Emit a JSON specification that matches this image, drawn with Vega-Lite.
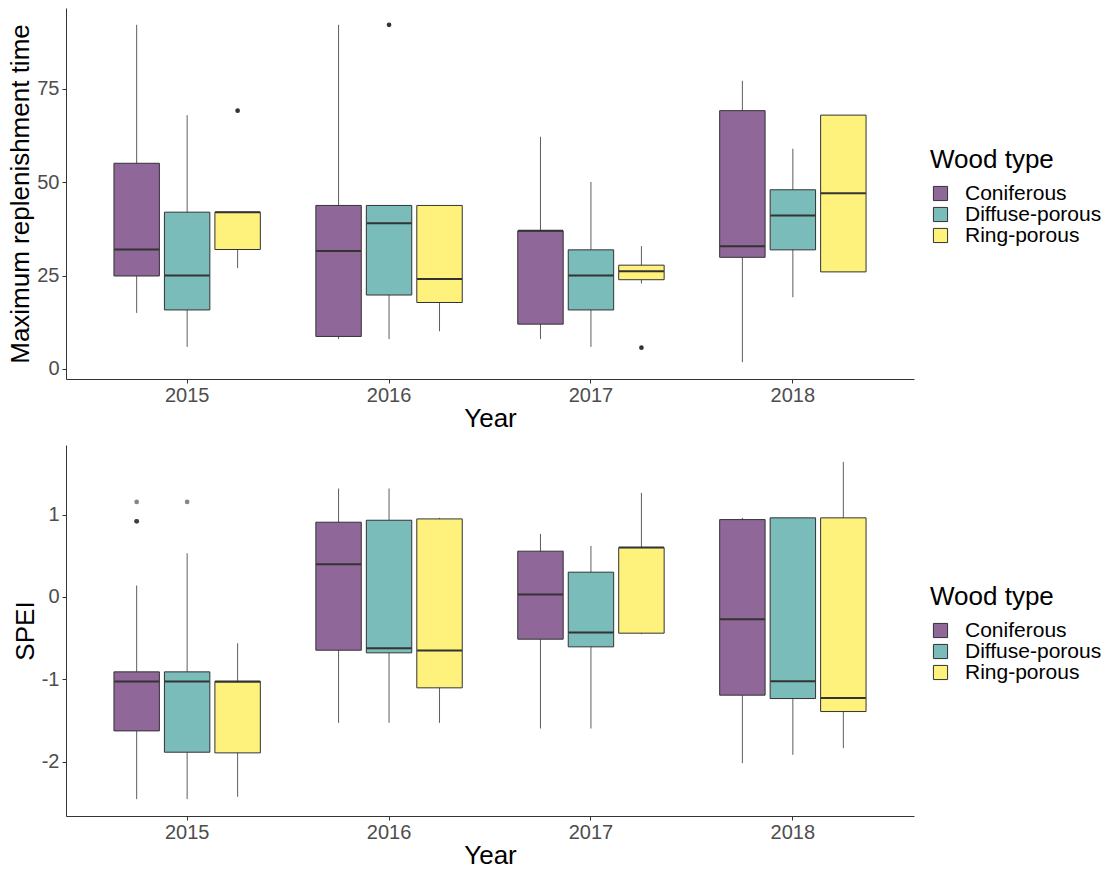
{
  "$schema": "https://vega.github.io/schema/vega-lite/v6.json",
  "background": "white",
  "padding": {"left": 7, "top": 8, "right": 0, "bottom": 0},
  "config": {
    "font": "Liberation Sans",
    "view": {"stroke": null},
    "axis": {
      "grid": false,
      "domainColor": "#333333",
      "domainWidth": 1,
      "tickColor": "#333333",
      "tickSize": 4,
      "labelColor": "#4D4D4D",
      "labelFontSize": 20,
      "labelFont": "Liberation Sans",
      "titleColor": "#000000",
      "titleFontSize": 26,
      "titleFontWeight": "normal",
      "titleFont": "Liberation Sans"
    },
    "legend": {
      "orient": "none",
      "legendX": 864,
      "legendY": 139,
      "titleFontSize": 26,
      "titleFontWeight": "normal",
      "titleColor": "#000000",
      "titleFont": "Liberation Sans",
      "titlePadding": 10,
      "labelFontSize": 21,
      "labelColor": "#000000",
      "labelFont": "Liberation Sans",
      "labelOffset": 14,
      "symbolType": "square",
      "symbolSize": 200,
      "symbolStrokeColor": "#333333",
      "symbolStrokeWidth": 1,
      "rowPadding": -2
    }
  },
  "datasets": {
    "mrt": [
      {"year": "2015", "wood": "Coniferous", "lo": 15.0, "q1": 24.9, "med": 32.0, "q3": 55.1, "hi": 92.2},
      {"year": "2015", "wood": "Diffuse-porous", "lo": 5.9, "q1": 15.8, "med": 25.0, "q3": 42.0, "hi": 68.0},
      {"year": "2015", "wood": "Ring-porous", "lo": 27.0, "q1": 32.0, "med": 42.0, "q3": 42.0, "hi": 42.0},
      {"year": "2016", "wood": "Coniferous", "lo": 8.0, "q1": 8.7, "med": 31.6, "q3": 43.8, "hi": 92.2},
      {"year": "2016", "wood": "Diffuse-porous", "lo": 8.0, "q1": 19.8, "med": 39.0, "q3": 43.8, "hi": 43.8},
      {"year": "2016", "wood": "Ring-porous", "lo": 10.1, "q1": 17.8, "med": 24.1, "q3": 43.8, "hi": 43.8},
      {"year": "2017", "wood": "Coniferous", "lo": 8.0, "q1": 12.0, "med": 37.0, "q3": 37.0, "hi": 62.2},
      {"year": "2017", "wood": "Diffuse-porous", "lo": 5.9, "q1": 15.8, "med": 25.0, "q3": 31.9, "hi": 50.1},
      {"year": "2017", "wood": "Ring-porous", "lo": 22.9, "q1": 23.9, "med": 26.2, "q3": 27.8, "hi": 32.9},
      {"year": "2018", "wood": "Coniferous", "lo": 1.8, "q1": 29.9, "med": 32.9, "q3": 69.2, "hi": 77.2},
      {"year": "2018", "wood": "Diffuse-porous", "lo": 19.2, "q1": 31.9, "med": 41.1, "q3": 48.0, "hi": 59.0},
      {"year": "2018", "wood": "Ring-porous", "lo": 26.0, "q1": 26.0, "med": 47.1, "q3": 68.0, "hi": 68.0}
    ],
    "mrt_out": [
      {"year": "2015", "wood": "Ring-porous", "v": 69.2},
      {"year": "2016", "wood": "Diffuse-porous", "v": 92.2},
      {"year": "2017", "wood": "Ring-porous", "v": 5.7}
    ],
    "spei": [
      {"year": "2015", "wood": "Coniferous", "lo": -2.457, "q1": -1.628, "med": -1.028, "q3": -0.911, "hi": 0.138},
      {"year": "2015", "wood": "Diffuse-porous", "lo": -2.457, "q1": -1.887, "med": -1.028, "q3": -0.911, "hi": 0.530},
      {"year": "2015", "wood": "Ring-porous", "lo": -2.429, "q1": -1.895, "med": -1.030, "q3": -1.024, "hi": -0.563},
      {"year": "2016", "wood": "Coniferous", "lo": -1.530, "q1": -0.648, "med": 0.397, "q3": 0.907, "hi": 1.316},
      {"year": "2016", "wood": "Diffuse-porous", "lo": -1.530, "q1": -0.680, "med": -0.623, "q3": 0.931, "hi": 1.316},
      {"year": "2016", "wood": "Ring-porous", "lo": -1.530, "q1": -1.105, "med": -0.652, "q3": 0.947, "hi": 0.960},
      {"year": "2017", "wood": "Coniferous", "lo": -1.599, "q1": -0.514, "med": 0.028, "q3": 0.555, "hi": 0.765},
      {"year": "2017", "wood": "Diffuse-porous", "lo": -1.599, "q1": -0.607, "med": -0.433, "q3": 0.300, "hi": 0.619},
      {"year": "2017", "wood": "Ring-porous", "lo": -0.453, "q1": -0.441, "med": 0.599, "q3": 0.599, "hi": 1.263},
      {"year": "2018", "wood": "Coniferous", "lo": -2.020, "q1": -1.194, "med": -0.271, "q3": 0.939, "hi": 0.960},
      {"year": "2018", "wood": "Diffuse-porous", "lo": -1.919, "q1": -1.235, "med": -1.024, "q3": 0.960, "hi": 0.960},
      {"year": "2018", "wood": "Ring-porous", "lo": -1.838, "q1": -1.393, "med": -1.227, "q3": 0.960, "hi": 1.640}
    ],
    "spei_out": [
      {"year": "2015", "wood": "Coniferous", "v": 1.154},
      {"year": "2015", "wood": "Coniferous", "v": 0.919},
      {"year": "2015", "wood": "Coniferous", "v": 0.919},
      {"year": "2015", "wood": "Coniferous", "v": 0.919},
      {"year": "2015", "wood": "Diffuse-porous", "v": 1.154}
    ]
  },
  "spacing": 14,
  "resolve": {"legend": {"color": "independent"}},
  "vconcat": [
    {
      "width": 848,
      "height": 371,
      "encoding": {
        "x": {"field": "year", "type": "nominal", "title": "Year",
              "scale": {"paddingInner": 0.25, "paddingOuter": 0.225},
              "axis": {"labelAngle": 0, "labelPadding": 2, "titlePadding": 0}},
        "xOffset": {"field": "wood", "type": "nominal",
                    "scale": {"paddingInner": 0.1, "paddingOuter": 0.05}}
      },
      "layer": [
        {
          "data": {"name": "mrt"},
          "mark": {"type": "rule", "color": "#333333", "strokeWidth": 0.8},
          "encoding": {
            "y": {"field": "lo", "type": "quantitative", "title": "Maximum replenishment time",
                  "scale": {"domain": [-2.7, 96.7], "nice": false, "zero": false},
                  "axis": {"values": [0, 25, 50, 75], "labelPadding": 3, "titlePadding": 3}},
            "y2": {"field": "hi"}
          }
        },
        {
          "data": {"name": "mrt"},
          "mark": {"type": "bar", "stroke": "#333333", "strokeWidth": 1},
          "encoding": {
            "y": {"field": "q1", "type": "quantitative"},
            "y2": {"field": "q3"},
            "color": {"field": "wood", "type": "nominal", "title": "Wood type",
                      "scale": {"domain": ["Coniferous", "Diffuse-porous", "Ring-porous"],
                                "range": ["#8F6798", "#7ABCBA", "#FEF17C"]}}
          }
        },
        {
          "data": {"name": "mrt"},
          "mark": {"type": "tick", "color": "#333333", "thickness": 2, "size": 45, "opacity": 1},
          "encoding": {"y": {"field": "med", "type": "quantitative"}}
        },
        {
          "data": {"name": "mrt_out"},
          "mark": {"type": "circle", "color": "#333333", "opacity": 1, "size": 22},
          "encoding": {"y": {"field": "v", "type": "quantitative"}}
        }
      ]
    },
    {
      "width": 848,
      "height": 371,
      "encoding": {
        "x": {"field": "year", "type": "nominal", "title": "Year",
              "scale": {"paddingInner": 0.25, "paddingOuter": 0.225},
              "axis": {"labelAngle": 0, "labelPadding": 2, "titlePadding": 0}},
        "xOffset": {"field": "wood", "type": "nominal",
                    "scale": {"paddingInner": 0.1, "paddingOuter": 0.05}}
      },
      "layer": [
        {
          "data": {"name": "spei"},
          "mark": {"type": "rule", "color": "#333333", "strokeWidth": 0.8},
          "encoding": {
            "y": {"field": "lo", "type": "quantitative", "title": "SPEI",
                  "scale": {"domain": [-2.662, 1.845], "nice": false, "zero": false},
                  "axis": {"values": [-2, -1, 0, 1], "labelExpr": "'' + datum.value", "labelPadding": 3, "titlePadding": 3}},
            "y2": {"field": "hi"}
          }
        },
        {
          "data": {"name": "spei"},
          "mark": {"type": "bar", "stroke": "#333333", "strokeWidth": 1},
          "encoding": {
            "y": {"field": "q1", "type": "quantitative"},
            "y2": {"field": "q3"},
            "color": {"field": "wood", "type": "nominal", "title": "Wood type",
                      "scale": {"domain": ["Coniferous", "Diffuse-porous", "Ring-porous"],
                                "range": ["#8F6798", "#7ABCBA", "#FEF17C"]}}
          }
        },
        {
          "data": {"name": "spei"},
          "mark": {"type": "tick", "color": "#333333", "thickness": 2, "size": 45, "opacity": 1},
          "encoding": {"y": {"field": "med", "type": "quantitative"}}
        },
        {
          "data": {"name": "spei_out"},
          "mark": {"type": "circle", "color": "#333333", "opacity": 0.6, "size": 22},
          "encoding": {"y": {"field": "v", "type": "quantitative"}}
        }
      ]
    }
  ]
}
